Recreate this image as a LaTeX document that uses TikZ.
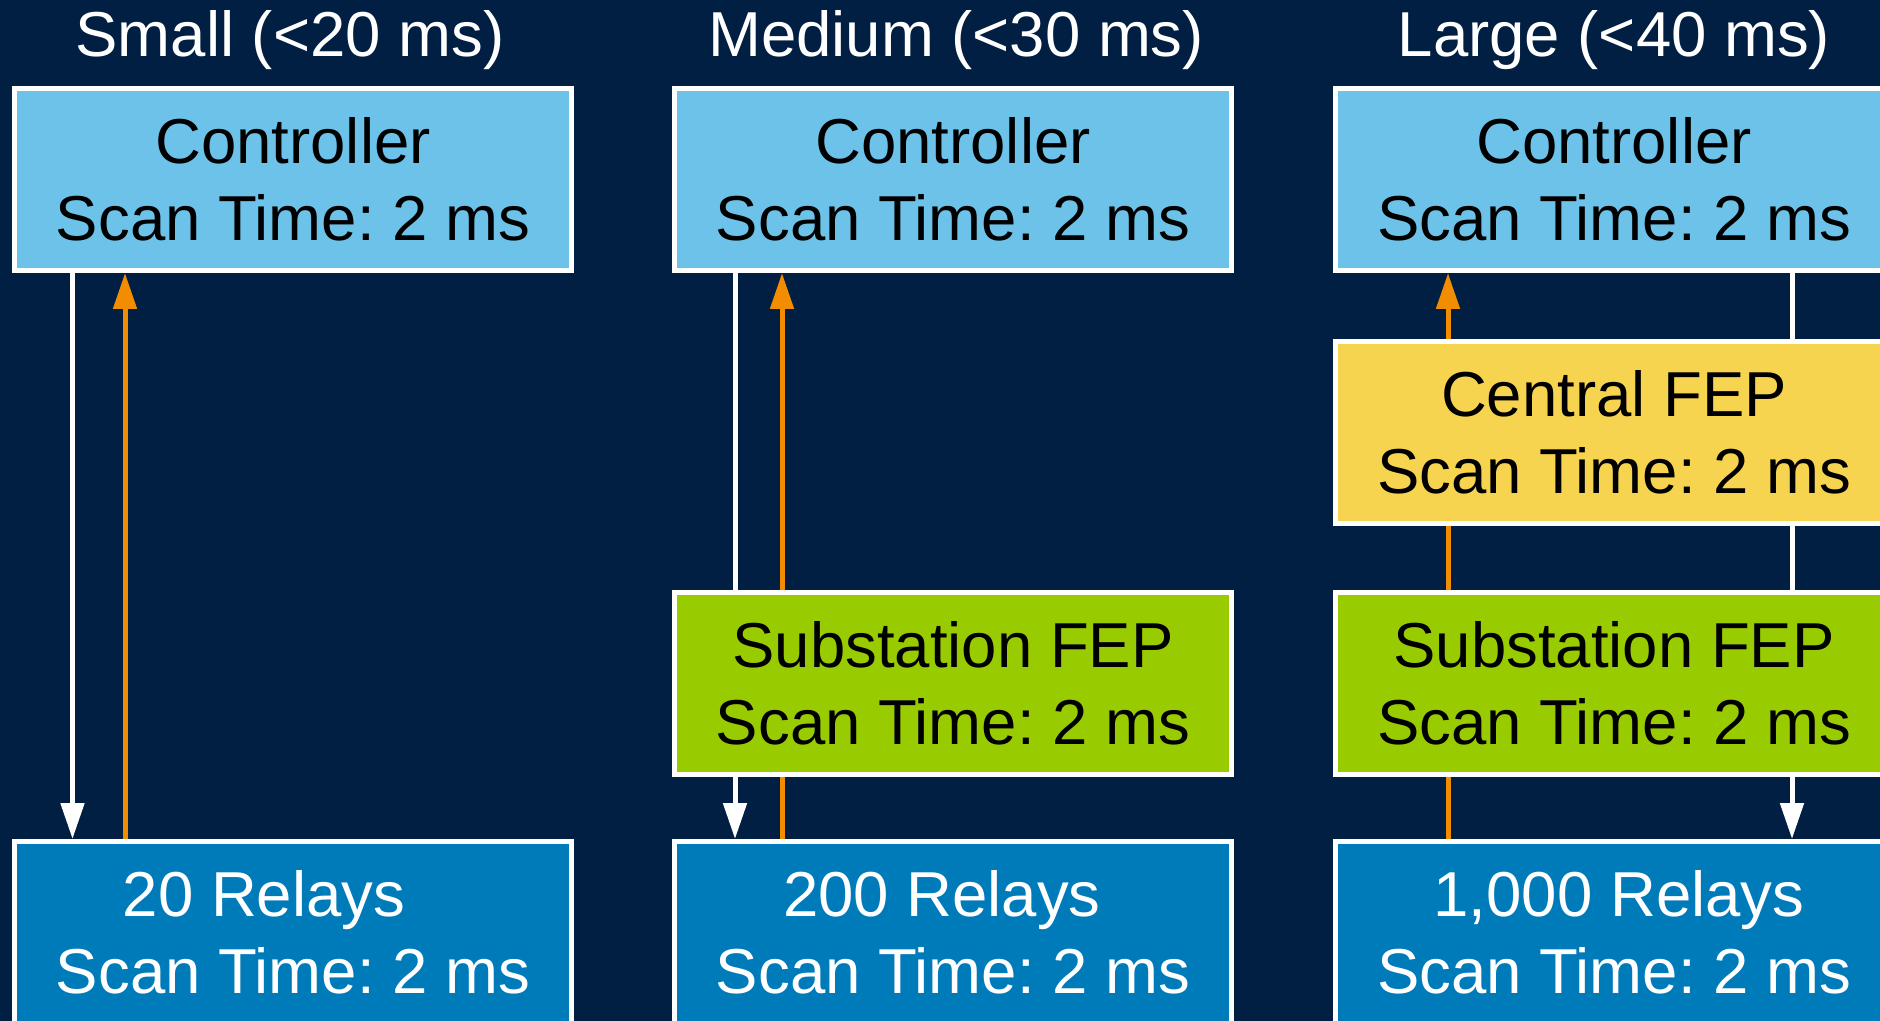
\documentclass[tikz,border=0pt]{standalone}
\usepackage{fontspec}
\setmainfont{Liberation Sans}
\usetikzlibrary{arrows.meta}
\frenchspacing

\definecolor{bgnavy}{RGB}{0,31,67}
\definecolor{ctrlblue}{RGB}{108,194,232}
\definecolor{fepyellow}{RGB}{247,212,79}
\definecolor{fepgreen}{RGB}{153,204,0}
\definecolor{relayblue}{RGB}{0,123,186}
\definecolor{scanorange}{RGB}{242,140,0}

\begin{document}
\begin{tikzpicture}[x=0.5pt,y=-0.5pt,
  box/.style={draw=white, line width=2.5pt, minimum width=278.5pt,
    minimum height=91pt, inner sep=0pt, anchor=north west, align=center,
    font=\fontsize{31.75pt}{38.5pt}\selectfont, text=black},
  relaybox/.style={box, fill=relayblue, text=white},
  title/.style={anchor=base, text=white, font=\fontsize{31.75pt}{38.5pt}\selectfont},
  tip/.style={-{Triangle[length=18pt,width=11.5pt]}},
  wseg/.style={draw=white, line width=2.5pt},
  oseg/.style={draw=scanorange, line width=2.5pt},
  wline/.style={wseg, tip},
  oline/.style={oseg, tip}]

\useasboundingbox (0,0) rectangle (1880,1021);
\clip (0,0) rectangle (1880,1021);
\fill[bgnavy] (0,0) rectangle (1880,1021);

% column headings
\node[title] (tA) at (290,57) {Small (<20 ms)};
\node[title] (tB) at (956,57) {Medium (<30 ms)};
\node[title] (tC) at (1614,57) {Large (<40 ms)};

% small system
\node[box, fill=ctrlblue] (ctrlA) at (12,86) {Controller\\Scan Time: 2 ms};
\node[relaybox] (relA) at (12,839) {20 Relays\hspace*{29pt}\\Scan Time: 2 ms};

% medium system
\node[box, fill=ctrlblue] (ctrlB) at (672,86) {Controller\\Scan Time: 2 ms};
\node[box, fill=fepgreen] (subB) at (672,590) {Substation FEP\\Scan Time: 2 ms};
\node[relaybox] (relB) at (672,839) {200 Relays\hspace*{11pt}\\Scan Time: 2 ms};

% large system
\node[box, fill=ctrlblue] (ctrlC) at (1333,86) {Controller\\Scan Time: 2 ms};
\node[box, fill=fepyellow] (cenC) at (1333,339) {Central FEP\\Scan Time: 2 ms};
\node[box, fill=fepgreen] (subC) at (1333,590) {Substation FEP\\Scan Time: 2 ms};
\node[relaybox] (relC) at (1333,839) {\hspace*{5pt}1,000 Relays\\Scan Time: 2 ms};

% small: request down, response up
\draw[wline] ([xshift=30.25pt]ctrlA.south west) -- ([xshift=30.25pt]relA.north west);
\draw[oline] ([xshift=56.5pt]relA.north west) -- ([xshift=56.5pt]ctrlA.south west);

% medium
\draw[wseg] ([xshift=31.5pt]ctrlB.south west) -- ([xshift=31.5pt]subB.north west);
\draw[wline] ([xshift=31.5pt]subB.south west) -- ([xshift=31.5pt]relB.north west);
\draw[oseg] ([xshift=55pt]relB.north west) -- ([xshift=55pt]subB.south west);
\draw[oline] ([xshift=55pt]subB.north west) -- ([xshift=55pt]ctrlB.south west);

% large
\draw[wseg] ([xshift=229.5pt]ctrlC.south west) -- ([xshift=229.5pt]cenC.north west);
\draw[wseg] ([xshift=229.5pt]cenC.south west) -- ([xshift=229.5pt]subC.north west);
\draw[wline] ([xshift=229.5pt]subC.south west) -- ([xshift=229.5pt]relC.north west);
\draw[oseg] ([xshift=57.5pt]relC.north west) -- ([xshift=57.5pt]subC.south west);
\draw[oseg] ([xshift=57.5pt]subC.north west) -- ([xshift=57.5pt]cenC.south west);
\draw[oline] ([xshift=57.5pt]cenC.north west) -- ([xshift=57.5pt]ctrlC.south west);
\end{tikzpicture}
\end{document}
